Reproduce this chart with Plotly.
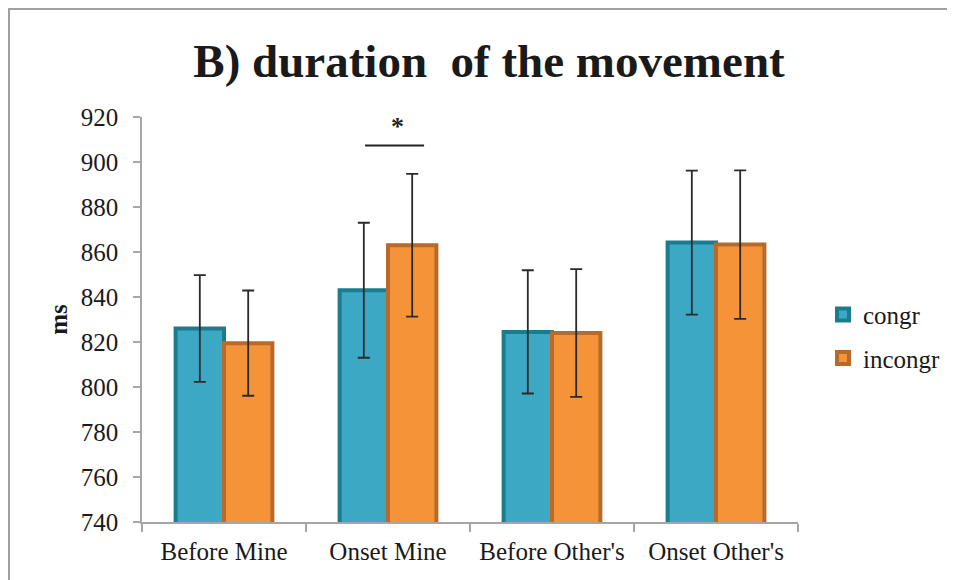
import plotly.graph_objects as go

categories = ["Before Mine", "Onset Mine", "Before Other's", "Onset Other's"]
congr_vals = [826, 843, 824.5, 864.2]
congr_err = [23.7, 30.0, 27.4, 32.0]
incongr_vals = [819.5, 863, 824, 863.3]
incongr_err = [23.4, 31.7, 28.4, 33.0]
y_ticks = [740, 760, 780, 800, 820, 840, 860, 880, 900, 920]

# significance marker (category-index coordinates, ms)
sig_x = [0.86, 1.22]
sig_y = 907.3
star_x = 1.055
star_y = 916

FONT = "Liberation Serif"
OFF = 8  # page body margin
W, H = 955 - OFF, 580 - OFF
L, T = 142 - OFF, 117 - OFF
R = W - (798 - OFF)
B = H - (522.3 - OFF)
pw, ph = W - L - R, H - T - B

def px_x(p):
    return (p - OFF - L) / pw

def px_y(p):
    return (H - B - (p - OFF)) / ph

fig = go.Figure()
fig.add_trace(go.Bar(
    name="congr", x=categories, y=congr_vals, legendgroup="c",
    marker=dict(color="#3DA8C4", line=dict(color="#1C7C8F", width=4)),
    error_y=dict(type="data", array=congr_err, color="#2a2a2a", thickness=1.8, width=6),
))
fig.add_trace(go.Bar(
    name="incongr", x=categories, y=incongr_vals, legendgroup="i",
    marker=dict(color="#F59338", line=dict(color="#B86A2B", width=4)),
    error_y=dict(type="data", array=incongr_err, color="#2a2a2a", thickness=1.8, width=6),
))

fig.add_shape(type="line", xref="x", yref="y", x0=sig_x[0], x1=sig_x[1], y0=sig_y, y1=sig_y,
              line=dict(color="#222222", width=2))
fig.add_annotation(x=star_x, y=star_y, xref="x", yref="y", text="<b>*</b>", showarrow=False,
                   font=dict(family=FONT, size=26, color="#222222"))

# chart-area border
fig.add_shape(type="rect", xref="paper", yref="paper",
              x0=px_x(9), x1=px_x(990), y0=px_y(620), y1=px_y(9),
              line=dict(color="#a0a0a0", width=2), fillcolor="rgba(0,0,0,0)", layer="below")

fig.update_layout(
    width=W, height=H,
    margin=dict(l=L, r=R, t=T, b=B, autoexpand=False),
    paper_bgcolor="white", plot_bgcolor="white",
    barmode="group", bargap=0.41, bargroupgap=0,
    title=dict(text="B) duration\u00a0 of the movement", x=(489 - OFF) / W, xanchor="center",
               y=1 - (61 - OFF) / H, yanchor="middle",
               font=dict(family=FONT, size=47, color="#1a1a1a", weight="bold")),
    font=dict(family=FONT, size=25, color="#1a1a1a"),
    legend=dict(x=px_x(823), y=px_y(292), xanchor="left", yanchor="top",
                font=dict(family=FONT, size=25), itemwidth=30, bgcolor="rgba(0,0,0,0)",
                traceorder="grouped", tracegroupgap=8),
    showlegend=True,
)
fig.update_xaxes(
    type="category", showline=True, linecolor="#a6a6a6", linewidth=1.5,
    ticks="outside", tickson="boundaries", ticklen=8, tickcolor="#a6a6a6", tickwidth=1.5,
    showgrid=False, tickfont=dict(family=FONT, size=25), ticklabelstandoff=6,
)
fig.update_yaxes(
    range=[740, 920], tickvals=y_ticks, showline=True, linecolor="#a6a6a6", linewidth=1.5,
    ticks="outside", ticklen=7, tickcolor="#a6a6a6", tickwidth=1.5, showgrid=False,
    zeroline=False, tickfont=dict(family=FONT, size=25), ticklabelstandoff=10,
    title=dict(text="<b>ms</b>", font=dict(family=FONT, size=25), standoff=6),
)

fig.write_html("out.html")
